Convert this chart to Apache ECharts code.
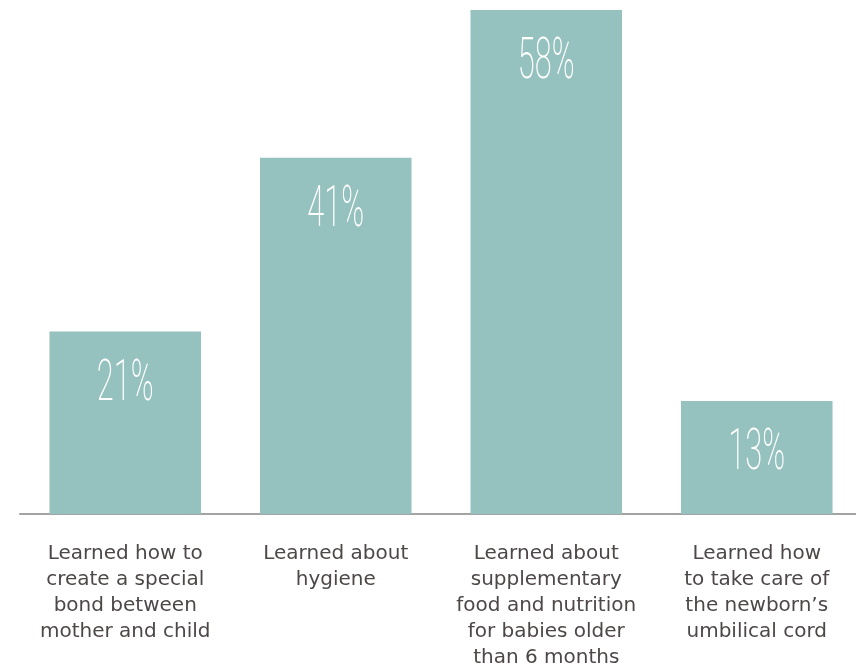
<!DOCTYPE html>
<html>
<head>
<meta charset="utf-8">
<script src="https://cdn.jsdelivr.net/npm/echarts@6/dist/echarts.min.js"></script>
<style>
html,body{margin:0;padding:0;background:#fff;}
#chart{width:856px;height:664px;}
</style>
</head>
<body>
<div id="chart"></div>
<script>
const categories = [
  "Learned how to\ncreate a special\nbond between\nmother and child",
  "Learned about\nhygiene",
  "Learned about\nsupplementary\nfood and nutrition\nfor babies older\nthan 6 months",
  "Learned how\nto take care of\nthe newborn\u2019s\numbilical cord"
];
const values = [21, 41, 58, 13];

const chart = echarts.init(document.getElementById('chart'), null, {renderer: 'canvas'});
chart.setOption({
  animation: false,
  grid: {left: 20, right: -6, top: 10, bottom: 150, containLabel: false, outerBoundsMode: 'none'},
  xAxis: {
    type: 'category',
    data: categories,
    axisLine: {lineStyle: {color: '#a3a3a3', width: 2}},
    axisTick: {show: false},
    axisLabel: {
      interval: 0,
      margin: 27,
      color: '#4d4847',
      fontFamily: 'DejaVu Sans',
      fontSize: 20,
      lineHeight: 26,
      align: 'center'
    }
  },
  yAxis: {type: 'value', min: 0, max: 58, show: false, splitLine: {show: false}},
  series: [
    {
      type: 'bar',
      data: values,
      barCategoryGap: '28%',
      itemStyle: {color: '#95c1be'},
      z: 2
    },
    {
      type: 'custom',
      data: values.map((v, i) => [i, v]),
      z: 5,
      renderItem: function (params, api) {
        const p = api.coord([api.value(0), api.value(1)]);
        return {
          type: 'text',
          x: p[0],
          y: p[1] + 54,
          scaleX: 0.54,
          style: {
            text: api.value(1) + '%',
            fill: '#ffffff',
            font: '200 57px Roboto',
            align: 'center',
            verticalAlign: 'middle'
          }
        };
      }
    }
  ]
});
</script>
</body>
</html>
